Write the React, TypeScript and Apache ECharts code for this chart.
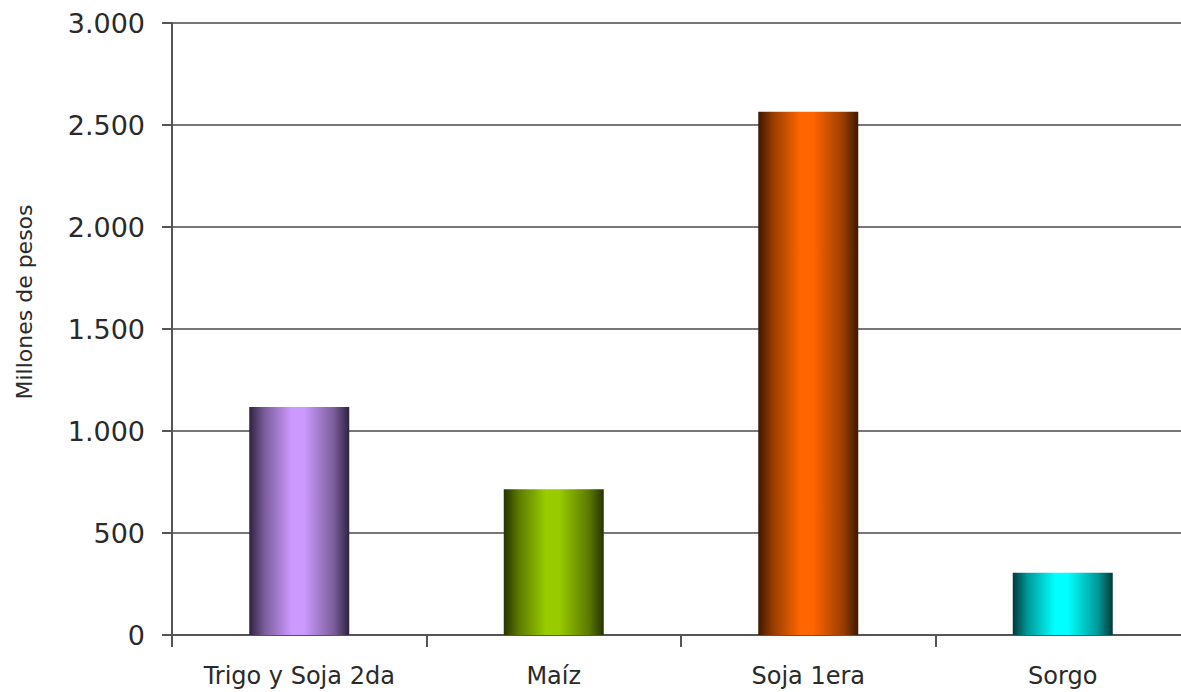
import React, { useEffect, useRef } from "react";
import * as echarts from "echarts";

const categories = ["Trigo y Soja 2da", "Maíz", "Soja 1era", "Sorgo"];
const values = [1118, 714, 2565, 305];
const baseColors = ["#CC99FF", "#99CC00", "#FF6600", "#00FFFF"];
const darkColors = ["#2E2240", "#263300", "#401800", "#003A3A"];
const midColors = ["#7A5C99", "#5C7A00", "#993D00", "#009999"];
const yTicks = [0, 500, 1000, 1500, 2000, 2500, 3000];
const yAxisTitle = "Millones de pesos";

const fmt = (v: number) => String(v).replace(/\B(?=(\d{3})+(?!\d))/g, ".");

export default function App() {
  const ref = useRef<HTMLDivElement>(null);
  useEffect(() => {
    if (!ref.current) return;
    const chart = echarts.init(ref.current, undefined, { renderer: "svg" });
    const font = "DejaVu Sans";
    chart.setOption({
      animation: false,
      backgroundColor: "#ffffff",
      grid: { left: 172, top: 23, width: 1018, height: 612, containLabel: false },
      xAxis: {
        type: "category",
        data: categories,
        axisLine: { show: true, lineStyle: { color: "#555", width: 2 } },
        axisTick: { show: true, interval: 0, length: 12, lineStyle: { color: "#555", width: 2 } },
        axisLabel: { interval: 0, hideOverlap: false, margin: 29, color: "#2a2a2a", fontSize: 24, fontFamily: font },
        splitLine: { show: false },
      },
      yAxis: {
        type: "value",
        min: yTicks[0],
        max: yTicks[yTicks.length - 1],
        interval: 500,
        axisLine: { show: true, lineStyle: { color: "#555", width: 2 } },
        axisTick: { show: true, length: 10, lineStyle: { color: "#555", width: 2 } },
        axisLabel: { margin: 27, color: "#2a2a2a", fontSize: 27, fontFamily: font, formatter: (v: number) => fmt(v) },
        splitLine: { show: true, lineStyle: { color: "#777", width: 2 } },
      },
      graphic: [
        {
          type: "text",
          x: 24,
          y: 302,
          rotation: Math.PI / 2,
          style: {
            text: yAxisTitle,
            fill: "#2a2a2a",
            fontSize: 22,
            fontFamily: font,
            align: "center",
            verticalAlign: "middle",
          },
        },
      ],
      series: [
        {
          type: "bar",
          barWidth: 100,
          data: values.map((v, i) => ({
            value: v,
            itemStyle: {
              color: new echarts.graphic.LinearGradient(0, 0, 1, 0, [
                { offset: 0, color: darkColors[i] },
                { offset: 0.15, color: midColors[i] },
                { offset: 0.42, color: baseColors[i] },
                { offset: 0.55, color: baseColors[i] },
                { offset: 0.85, color: midColors[i] },
                { offset: 1, color: darkColors[i] },
              ]),
              borderWidth: 0,
            },
          })),
        },
      ],
    });
    return () => chart.dispose();
  }, []);
  return (
    <div style={{ position: "absolute", left: 0, top: 0, width: 1181, height: 692, overflow: "hidden" }}>
      <div ref={ref} style={{ width: 1200, height: 692 }} />
    </div>
  );
}
